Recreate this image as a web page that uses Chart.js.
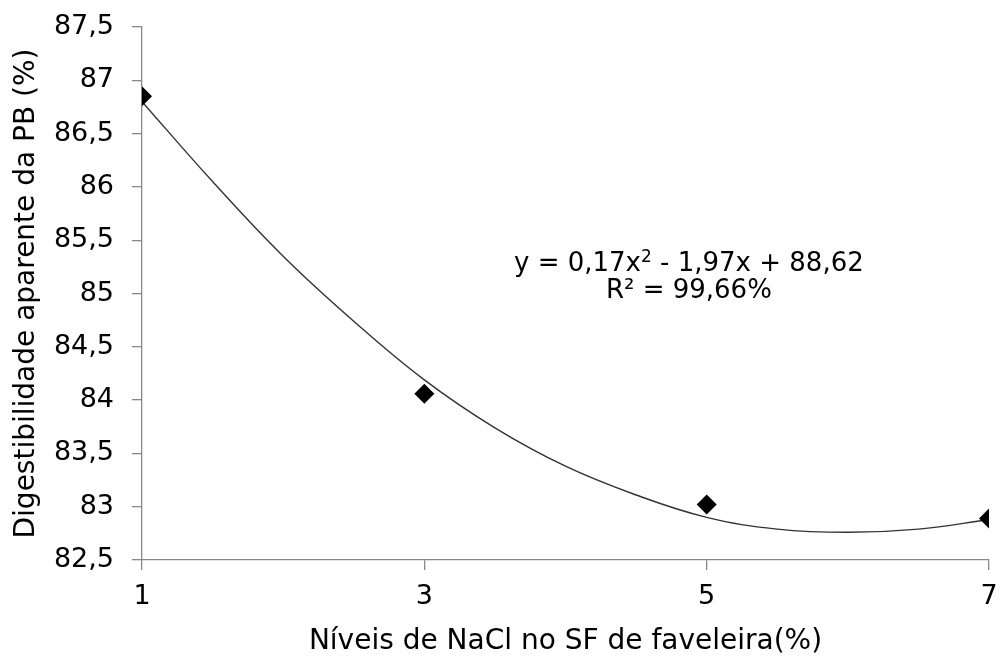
<!DOCTYPE html>
<html>
<head>
<meta charset="utf-8">
<script src="https://cdn.jsdelivr.net/npm/chart.js"></script>
<style>
  html, body { margin: 0; padding: 0; background: #fff; }
  #wrap { width: 1002px; height: 659px; position: relative; }
</style>
</head>
<body>
<div id="wrap"><canvas id="grafico"></canvas></div>
<script>
// niveis de NaCl (x) e digestibilidade observada (y)
const niveisNaCl = [1, 3, 5, 7];
const digestibilidade = [86.85, 84.06, 83.02, 82.89];

// curva de tendencia
const curvaX = [1, 1.5, 2, 2.5, 3, 3.5, 4, 4.5, 5, 5.5, 6, 6.5, 7];
const curvaY = [86.80, 86.05, 85.35, 84.74, 84.19, 83.74, 83.38, 83.11, 82.90, 82.79, 82.76, 82.79, 82.88];

const xTicks = [1, 3, 5, 7];
const yMin = 82.5, yMax = 87.5, yStep = 0.5;

const FONTE = "'DejaVu Sans', Arial, sans-serif";
const TAM = 26;

// texto da equacao
const equacaoPlugin = {
    id: "equacao",
    afterDatasetsDraw(chart) {
        const ctx = chart.ctx;
        const xs = chart.scales.x, ys = chart.scales.y;
        ctx.save();
        ctx.fillStyle = "#000";
        ctx.textBaseline = "alphabetic";
        ctx.textAlign = "left";
        // linha 1 com expoente
        const p1 = "y = 0,17x", sup = "2", p2 = " - 1,97x + 88,62";
        ctx.font = TAM + "px " + FONTE;
        const w1 = ctx.measureText(p1).width;
        const w3 = ctx.measureText(p2).width;
        ctx.font = "17px " + FONTE;
        const w2 = ctx.measureText(sup).width;
        const total = w1 + w2 + w3;
        const cx = xs.getPixelForValue(4.874);
        const by = ys.getPixelForValue(85.21);
        const x0 = cx - total / 2;
        ctx.font = TAM + "px " + FONTE;
        ctx.fillText(p1, x0, by);
        ctx.font = "17px " + FONTE;
        ctx.fillText(sup, x0 + w1, by - 9);
        ctx.font = TAM + "px " + FONTE;
        ctx.fillText(p2, x0 + w1 + w2, by);
        // linha 2
        ctx.textAlign = "center";
        ctx.fillText("R² = 99,66%", cx, ys.getPixelForValue(84.96));
        ctx.restore();
    }
};

const ctx = document.getElementById("grafico").getContext("2d");
new Chart(ctx, {
    type: "scatter",
    data: {
        datasets: [
            {
                label: "Observado",
                data: niveisNaCl.map((x, i) => ({ x: x, y: digestibilidade[i] })),
                pointStyle: "rectRot",
                pointRadius: 10,
                pointHoverRadius: 10,
                backgroundColor: "#000",
                borderColor: "#000",
                borderWidth: 0,
                order: 1
            },
            {
                label: "Tendencia",
                type: "line",
                data: curvaX.map((x, i) => ({ x: x, y: curvaY[i] })),
                borderColor: "#333",
                borderWidth: 1.4,
                pointRadius: 0,
                tension: 0.4,
                fill: false,
                order: 2
            }
        ]
    },
    options: {
        responsive: true,
        maintainAspectRatio: false,
        animation: false,
        layout: { padding: { top: 27, right: 13, left: 0, bottom: 0 } },
        plugins: {
            legend: { display: false },
            tooltip: { enabled: false }
        },
        scales: {
            x: {
                type: "linear",
                min: 1,
                max: 7,
                afterBuildTicks: (s) => { s.ticks = xTicks.map(v => ({ value: v })); },
                afterFit: (s) => { s.height = 99; s.paddingRight = 0; },
                border: { color: "#888", width: 1.3 },
                grid: { drawOnChartArea: false, drawTicks: true, tickLength: 10, color: "#888", lineWidth: 1.3 },
                ticks: { color: "#000", font: { family: FONTE, size: 27 }, padding: 11 },
                title: {
                    display: true,
                    text: "Níveis de NaCl no SF de faveleira(%)",
                    color: "#000",
                    font: { family: FONTE, size: 28 },
                    padding: { top: 2, bottom: 0 }
                }
            },
            y: {
                min: yMin,
                max: yMax,
                afterFit: (s) => { s.width = 142; s.paddingTop = 0; s.paddingBottom = 0; },
                border: { color: "#888", width: 1.3 },
                grid: { drawOnChartArea: false, drawTicks: true, tickLength: 10, color: "#888", lineWidth: 1.3 },
                ticks: {
                    stepSize: yStep,
                    color: "#000",
                    font: { family: FONTE, size: 27 },
                    padding: 18,
                    callback: (v) => String(v).replace(".", ",")
                },
                title: {
                    display: true,
                    text: "Digestibilidade aparente da PB (%)",
                    color: "#000",
                    font: { family: FONTE, size: 28 },
                    padding: { top: 10, bottom: 0 }
                }
            }
        }
    },
    plugins: [equacaoPlugin]
});
</script>
</body>
</html>
